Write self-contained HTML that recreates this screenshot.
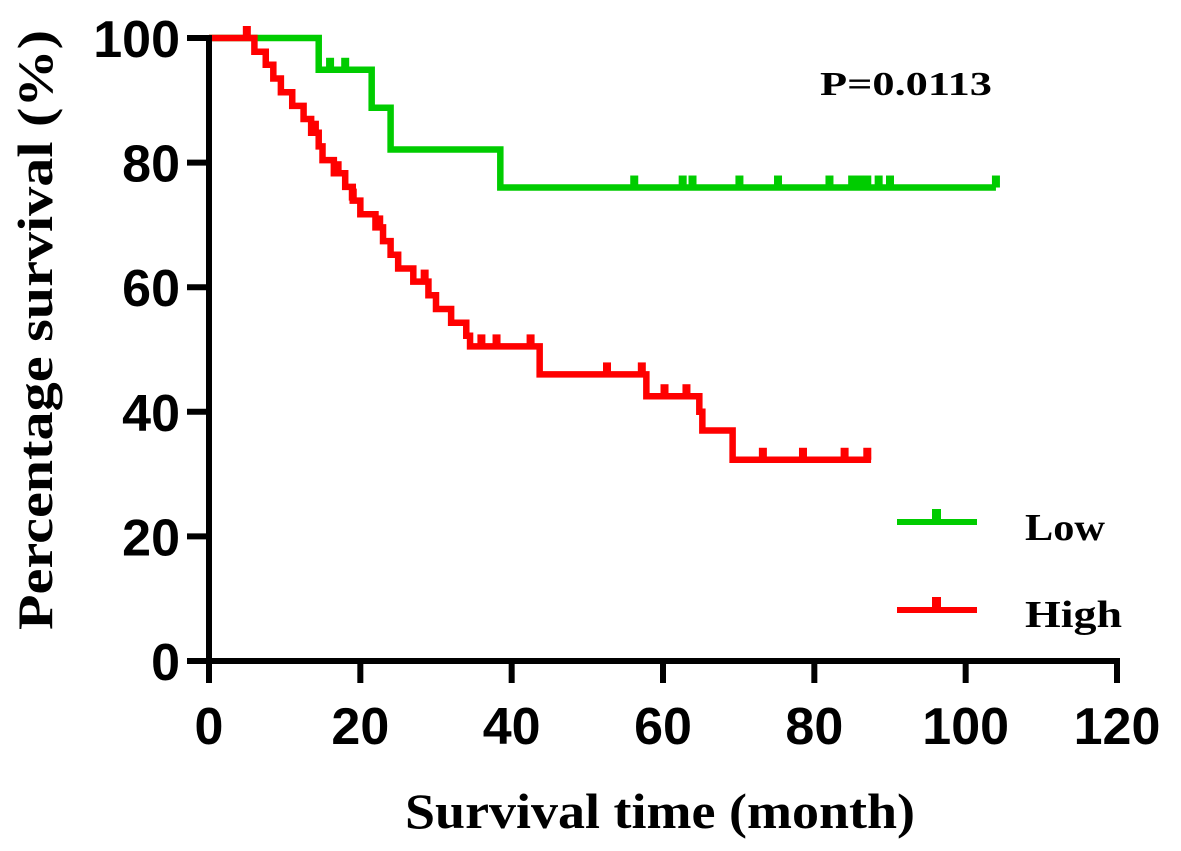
<!DOCTYPE html>
<html><head><meta charset="utf-8"><style>
body{margin:0;background:#fff}
svg{display:block}
.num{font-family:"Liberation Sans",Arial,sans-serif;font-weight:bold;font-size:52px;fill:#000}
.ser{font-family:"Liberation Serif","Times New Roman",serif;font-weight:bold;fill:#000}
</style></head><body>
<svg id="chart" width="1181" height="851" viewBox="0 0 1181 851" xmlns="http://www.w3.org/2000/svg">
<g id="plot"></g>
<g id="axes"></g>
<text class="ser" x="820" y="95" font-size="34" textLength="172" lengthAdjust="spacingAndGlyphs">P=0.0113</text>
<text class="ser" x="405" y="828" font-size="50" textLength="510" lengthAdjust="spacingAndGlyphs">Survival time (month)</text>
<text class="ser" transform="translate(52,630) rotate(-90)" font-size="50" textLength="600" lengthAdjust="spacingAndGlyphs">Percentage survival (%)</text>
<g>
<g>
<line x1="897" y1="522" x2="977" y2="522" stroke="#0c0" stroke-width="6"/>
<rect x="932" y="509" width="9" height="14" fill="#0c0"/>
<text class="ser" x="1025" y="540" font-size="38" textLength="80" lengthAdjust="spacingAndGlyphs">Low</text></g>
<g>
<line x1="897" y1="610" x2="977" y2="610" stroke="#f00" stroke-width="6"/>
<rect x="932" y="597" width="9" height="14" fill="#f00"/>
<text class="ser" x="1025" y="627" font-size="38" textLength="97" lengthAdjust="spacingAndGlyphs">High</text></g>
</g>
</svg>
<script>
const xTicks=[0,20,40,60,80,100,120];
const yTicks=[0,20,40,60,80,100];
// Low group: step times and survival after each step
const lowTimes=[14.5,21.5,24,38.5];
const lowSurv=[94.9,88.8,82.1,76.0];
const lowCensor=[16,18,56.2,62.6,63.9,70.1,75.2,82,85,86,87,88.5,90,104];
const lowEnd=104;
// High group
const highTimes=[6,7.5,8.5,9.5,11,12.5,13.5,14.5,15,16.5,18,19,20,22,23,24,25,27,29,30,32,34,34.5,43.7,57.8,64.8,65.2,69.2];
const highSurv=[97.8,95.7,93.5,91.3,89.1,87,84.8,82.6,80.4,78.3,76.1,73.9,71.7,69.6,67.4,65.2,63,60.9,58.7,56.5,54.3,52.2,50.5,46,42.5,40,37,32.3];
const highCensor=[5,14,17,19,22.5,28.5,36,38,42.5,52.6,57.2,60.2,63.1,73.2,78.5,84,87];
const highEnd=87.5;

const X=v=>209+v*(1117-209)/120;
const Y=v=>661-v*(661-38)/100;
const NS='http://www.w3.org/2000/svg';
function mk(tag,attrs,parent){const e=document.createElementNS(NS,tag);for(const k in attrs)e.setAttribute(k,attrs[k]);parent.appendChild(e);return e;}
const plot=document.getElementById('plot');
const axes=document.getElementById('axes');

function survAt(times,surv,t){let s=100;for(let i=0;i<times.length;i++){if(times[i]<=t)s=surv[i];}return s;}
function drawSeries(times,surv,cens,end,color,name){
  let d='M'+X(0)+','+Y(100);
  for(let i=0;i<times.length;i++){d+=' H'+X(times[i])+' V'+Y(surv[i]);}
  d+=' H'+X(end);
  const p=mk('path',{d:d,fill:'none',stroke:color,'stroke-width':6.5,'stroke-linejoin':'miter'},plot);
  
  
  cens.forEach(t=>{
    const v=survAt(times,surv,t);
    const r=mk('rect',{x:X(t)-4,y:Y(v)-12,width:8,height:12,fill:color},plot);
    
    
  });
}
drawSeries(lowTimes,lowSurv,lowCensor,lowEnd,'#0c0','low');
drawSeries(highTimes,highSurv,highCensor,highEnd,'#f00','high');

const ya=mk('line',{x1:X(0),y1:Y(100)-3,x2:X(0),y2:Y(0)+22,stroke:'#000','stroke-width':6},axes);


const xa=mk('line',{x1:X(0)-22,y1:Y(0),x2:X(120)+3,y2:Y(0),stroke:'#000','stroke-width':6},axes);


xTicks.forEach(t=>{
  const l=mk('line',{x1:X(t),y1:Y(0),x2:X(t),y2:Y(0)+22,stroke:'#000','stroke-width':6},axes);
  
  
  const tx=mk('text',{x:X(t),y:744,'text-anchor':'middle',class:'num'},axes);
  tx.textContent=t;
  
  
});
yTicks.forEach(t=>{
  const l=mk('line',{x1:X(0)-22,y1:Y(t),x2:X(0),y2:Y(t),stroke:'#000','stroke-width':6},axes);
  
  
  const tx=mk('text',{x:180,y:Y(t)+19,'text-anchor':'end',class:'num'},axes);
  tx.textContent=t;
  
  
});
</script>
</body></html>
